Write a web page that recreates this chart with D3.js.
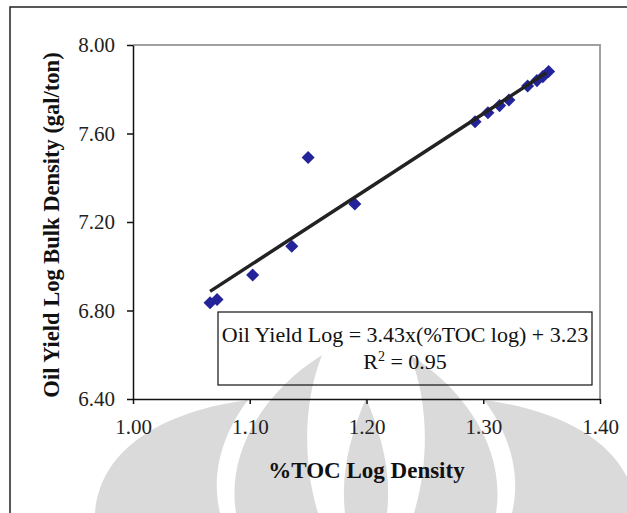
<!DOCTYPE html>
<html lang="en">
<head>
    <meta charset="UTF-8">
    <title>Oil Yield vs %TOC Log Density</title>
    <script src="https://d3js.org/d3.v7.min.js"></script>
    <style>
        body { margin: 0; background: white; }
        svg { display: block; font-family: "Liberation Serif", "Times New Roman", serif; }
    </style>
</head>
<body>
    <svg width="627" height="513"></svg>
    <script>
        // data
        var tocLog = [1.066, 1.072, 1.1025, 1.136, 1.150, 1.190, 1.293, 1.304, 1.314, 1.322, 1.338, 1.346, 1.351, 1.356];
        var oilLog = [6.835, 6.850, 6.960, 7.090, 7.492, 7.281, 7.653, 7.694, 7.726, 7.751, 7.815, 7.839, 7.857, 7.880];
        var xTicks = [1.00, 1.10, 1.20, 1.30, 1.40];
        var yTicks = [6.40, 6.80, 7.20, 7.60, 8.00];
        var slope = 3.43, intercept = 3.23;
        var fitRange = [1.066, 1.354];

        var svg = d3.select("svg");
        var plotL = 133, plotT = 45, plotR = 600, plotB = 399;

        // faint watermark behind the chart
        var wmShapes = [
            "M 95 513 C 100 450 160 412 248 400 C 218 440 212 480 220 513 Z",
            "M 236 513 C 226 450 266 390 322 355 C 304 400 302 460 318 513 Z",
            "M 345 513 C 340 470 352 432 366 398 C 380 432 392 470 387 513 Z",
            "M 496 513 C 506 450 466 390 410 355 C 428 400 430 460 414 513 Z",
            "M 637 513 C 632 450 572 412 484 400 C 514 440 520 480 512 513 Z"
        ];
        svg.append("g").selectAll("path").data(wmShapes).enter().append("path")
            .attr("d", function(d) { return d; })
            .attr("fill", "#dadada");

        // outer frame
        svg.append("rect")
            .attr("x", 10).attr("y", 7)
            .attr("width", 640).attr("height", 540)
            .attr("fill", "none")
            .attr("stroke", "#222")
            .attr("stroke-width", 1.5);

        var x = d3.scaleLinear().domain([1.00, 1.40]).range([plotL, plotR]);
        var y = d3.scaleLinear().domain([6.40, 8.00]).range([plotB, plotT]);

        // grey top and right border of plot area
        svg.append("path")
            .attr("d", "M" + plotL + "," + plotT + "H" + plotR + "V" + plotB)
            .attr("fill", "none")
            .attr("stroke", "#a0a0a0")
            .attr("stroke-width", 2);

        svg.append("g")
            .attr("transform", "translate(0," + plotB + ")")
            .call(d3.axisBottom(x).tickValues(xTicks).tickFormat(d3.format(".2f"))
                .tickSize(5).tickSizeOuter(0).tickPadding(15));

        svg.append("g")
            .attr("transform", "translate(" + plotL + ",0)")
            .call(d3.axisLeft(y).tickValues(yTicks).tickFormat(d3.format(".2f"))
                .tickSize(6).tickSizeOuter(0).tickPadding(12));

        svg.selectAll(".domain, .tick line")
            .attr("stroke", "#111")
            .attr("stroke-width", 1.5);
        svg.selectAll(".tick text")
            .attr("font-family", "Liberation Serif")
            .attr("font-size", 21)
            .attr("fill", "#222");

        // axis titles
        svg.append("text")
            .attr("x", (plotL + plotR) / 2)
            .attr("y", 478)
            .attr("text-anchor", "middle")
            .attr("font-size", 23)
            .attr("font-weight", "bold")
            .attr("fill", "#111")
            .text("%TOC Log Density");

        svg.append("text")
            .attr("transform", "translate(59," + ((plotT + plotB) / 2 + 3) + ") rotate(-90)")
            .attr("text-anchor", "middle")
            .attr("font-size", 22.5)
            .attr("font-weight", "bold")
            .attr("fill", "#111")
            .text("Oil Yield Log Bulk Density (gal/ton)");

        // data points
        var points = tocLog.map(function(v, i) { return [v, oilLog[i]]; });
        svg.append("g").selectAll("path")
            .data(points).enter().append("path")
            .attr("d", d3.symbol().type(d3.symbolSquare).size(85))
            .attr("transform", function(d) {
                return "translate(" + x(d[0]) + "," + y(d[1]) + ") rotate(45)";
            })
            .attr("fill", "#24249a");

        // trend line
        svg.append("line")
            .attr("x1", x(fitRange[0])).attr("y1", y(slope * fitRange[0] + intercept))
            .attr("x2", x(fitRange[1])).attr("y2", y(slope * fitRange[1] + intercept))
            .attr("stroke", "#222")
            .attr("stroke-width", 3.5);

        // equation box
        svg.append("rect")
            .attr("x", 218).attr("y", 312)
            .attr("width", 374).attr("height", 73)
            .attr("fill", "none")
            .attr("stroke", "#111")
            .attr("stroke-width", 1.2);

        svg.append("text")
            .attr("x", 405).attr("y", 342)
            .attr("text-anchor", "middle")
            .attr("font-size", 22)
            .attr("fill", "#111")
            .text("Oil Yield Log = " + slope.toFixed(2) + "x(%TOC log) + " + intercept.toFixed(2));

        var r2 = svg.append("text")
            .attr("x", 405).attr("y", 369)
            .attr("text-anchor", "middle")
            .attr("font-size", 22)
            .attr("fill", "#111");
        r2.append("tspan").text("R");
        r2.append("tspan").attr("font-size", 14).attr("dy", -8).text("2");
        r2.append("tspan").attr("dy", 8).text(" = 0.95");
    </script>
</body>
</html>
